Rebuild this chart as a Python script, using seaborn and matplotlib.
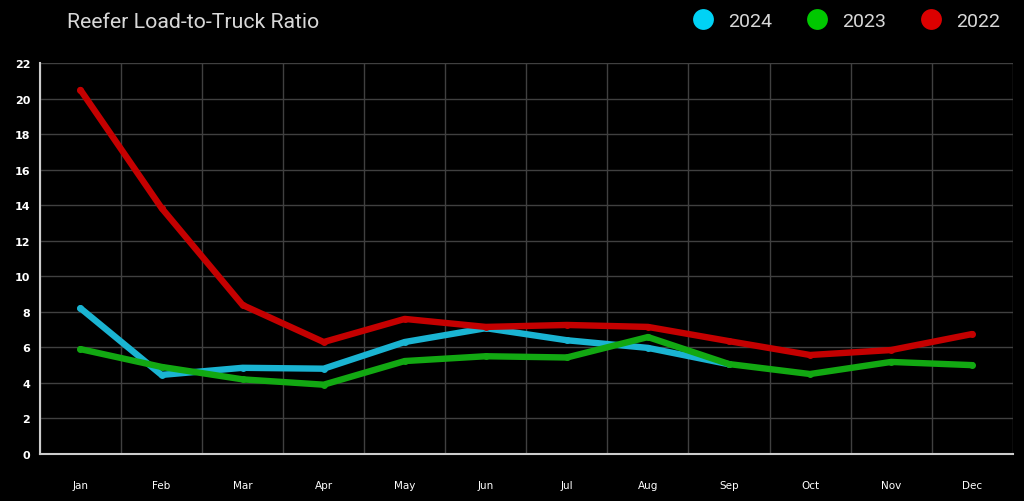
import matplotlib
matplotlib.use("Agg")
import matplotlib.pyplot as plt
from matplotlib.lines import Line2D
import seaborn as sns
import pandas as pd
import numpy as np

months = ["Jan", "Feb", "Mar", "Apr", "May", "Jun", "Jul", "Aug", "Sep", "Oct", "Nov", "Dec"]
v2024 = [8.2, 4.45, 4.85, 4.8, 6.3, 7.08, 6.4, 5.97, 5.05]
v2023 = [5.9, 4.9, 4.2, 3.9, 5.23, 5.5, 5.43, 6.58, 5.06, 4.5, 5.18, 5.0]
v2022 = [20.48, 13.84, 8.38, 6.3, 7.6, 7.15, 7.26, 7.15, 6.35, 5.57, 5.85, 6.75]
series_names = ["2024", "2023", "2022"]
line_colors = {"2024": "#1ab4d2", "2023": "#12a812", "2022": "#c40000"}
legend_colors = {"2024": "#00d2f5", "2023": "#00c800", "2022": "#dc0000"}
yticks = list(range(0, 23, 2))

rows = []
for name, vals in zip(series_names, [v2024, v2023, v2022]):
    for m, v in zip(months, vals):
        rows.append({"month": m, "value": v, "year": name})
df = pd.DataFrame(rows)

sns.set_style("dark")
plt.rcParams["font.family"] = ["DejaVu Sans"]
fig = plt.figure(figsize=(10.24, 5.02), dpi=100, facecolor="black")
ax = fig.add_axes([0.039, 0.0936, 0.950, 0.779])
ax.set_facecolor("black")

sns.lineplot(data=df, x="month", y="value", hue="year", hue_order=series_names,
             palette=line_colors, linewidth=4.6, marker="o", markersize=5,
             markeredgewidth=0, sort=False, legend=False, ax=ax, zorder=3)

ax.set_xlim(-0.5, 11.5)
ax.set_ylim(0, 22)
ax.set_yticks(yticks)
ax.set_yticklabels([str(t) for t in yticks], color="white", fontsize=8, fontweight="bold")
ax.set_xticks(range(len(months)))
ax.set_xticklabels(months, color="white", fontsize=7.5)
ax.set_xticks(np.arange(-0.5, 11.6, 1), minor=True)
ax.tick_params(axis="x", which="major", length=3, color="#bbbbbb", pad=16)
ax.tick_params(axis="x", which="minor", length=0)
ax.tick_params(axis="y", length=3, color="#bbbbbb", pad=4)
ax.grid(False)
ax.grid(True, which="minor", axis="x", color="#404040", linewidth=1)
ax.grid(True, which="major", axis="y", color="#404040", linewidth=1)
ax.set_axisbelow(True)
for s in ["top", "right"]:
    ax.spines[s].set_visible(False)
for s in ["left", "bottom"]:
    ax.spines[s].set_visible(True)
    ax.spines[s].set_color("#cccccc")
    ax.spines[s].set_linewidth(1.5)
ax.set_xlabel("")
ax.set_ylabel("")

fig.text(0.065, 0.956, "Reefer Load-to-Truck Ratio", color="#d8d8d8", fontsize=15.3,
         va="center", ha="left", family=["Roboto", "DejaVu Sans"])

handles = [Line2D([0], [0], marker="o", linestyle="", markersize=15,
                  markerfacecolor=legend_colors[n], markeredgewidth=0) for n in series_names]
leg = fig.legend(handles, series_names, loc="center right", bbox_to_anchor=(0.977, 0.956),
                 ncol=3, frameon=False, handletextpad=0.6, columnspacing=1.6,
                 handlelength=1.4, borderaxespad=0, borderpad=0,
                 prop={"family": ["Roboto", "DejaVu Sans"], "size": 14})
for t in leg.get_texts():
    t.set_color("#d8d8d8")

fig.savefig("out.png", dpi=100, facecolor="black")
